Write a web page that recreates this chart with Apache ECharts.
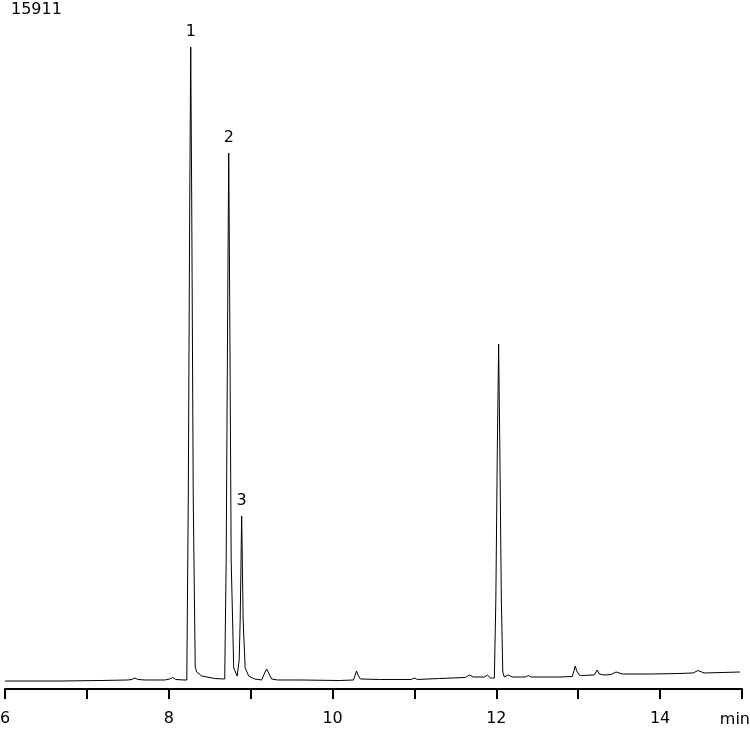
<!DOCTYPE html>
<html>
<head>
<meta charset="utf-8">
<script src="https://cdn.jsdelivr.net/npm/echarts@6/dist/echarts.min.js"></script>
<style>html,body{margin:0;padding:0;background:#fff}#c{width:750px;height:730px}</style>
</head>
<body>
<div id="c"></div>
<script>
// Retention time (min)
const times = [6.000,6.671,7.159,7.500,7.549,7.585,7.622,7.707,7.951,8.012,8.049,8.085,8.183,8.220,8.238,8.256,8.268,8.280,8.299,8.323,8.341,8.402,8.561,8.683,8.701,8.720,8.732,8.744,8.762,8.793,8.835,8.860,8.872,8.890,8.908,8.933,8.976,9.049,9.134,9.171,9.195,9.220,9.256,9.329,9.598,10.085,10.256,10.280,10.293,10.311,10.341,10.573,10.963,11.000,11.037,11.305,11.622,11.671,11.720,11.854,11.890,11.927,11.976,11.994,12.012,12.028,12.043,12.061,12.079,12.098,12.146,12.195,12.305,12.354,12.390,12.427,12.768,12.927,12.951,12.963,12.982,13.012,13.037,13.195,13.232,13.256,13.317,13.402,13.463,13.537,13.866,14.232,14.402,14.463,14.537,14.976];
// Detector signal
const signal = [187,187,199,211,223,258,223,211,211,234,270,223,211,211,4429,11458,15043,11458,4429,516,398,305,246,234,3023,9115,12560,9115,3023,492,305,680,1617,4054,1617,492,305,234,211,375,469,375,234,211,211,199,211,351,422,328,234,223,223,258,223,246,270,328,281,281,328,258,258,2085,5600,8084,5600,2085,398,281,328,281,281,281,316,281,281,293,445,539,422,328,316,328,445,351,328,340,398,351,351,363,375,433,375,398];
// Peak annotations
const peakNames = ['1','2','3'];
const peakTimes = [8.268, 8.732, 8.890];
const peakHeights = [15043, 12560, 4054];
const fullScale = 15911;
const axisMin = 6, axisMax = 15;

const data = times.map((t,i)=>[t, signal[i]]);
const font = 'DejaVu Sans';
const chart = echarts.init(document.getElementById('c'), null, {renderer:'canvas'});
chart.setOption({
  animation:false,
  backgroundColor:'#fff',
  title:{text:String(fullScale), left:11, top:2, padding:0,
    textStyle:{fontFamily:font, fontSize:16, fontWeight:'normal', color:'#000'}},
  grid:{left:5, right:8, top:10, bottom:41, containLabel:false, outerBoundsMode:'none'},
  xAxis:{type:'value', min:axisMin, max:axisMax, interval:1,
    name:'min', nameLocation:'end', nameGap:8,
    nameTextStyle:{fontFamily:font, fontSize:16, color:'#000', align:'right', verticalAlign:'top', padding:[23,0,0,0]},
    axisLine:{lineStyle:{color:'#000', width:2}},
    axisTick:{length:10, lineStyle:{color:'#000', width:2}},
    splitLine:{show:false},
    axisLabel:{margin:22, fontFamily:font, fontSize:16, color:'#000', hideOverlap:false,
      formatter:v=> (v%2===0 && v<axisMax) ? String(v) : ''}},
  yAxis:{type:'value', min:0, max:fullScale, show:false, splitLine:{show:false}},
  series:[{type:'line', data:data, showSymbol:false, symbol:'none',
    lineStyle:{color:'#000', width:1}, silent:true,
    markPoint:{symbol:'circle', symbolSize:0, silent:true,
      label:{show:true, position:'top', distance:7, fontFamily:font, fontSize:16, color:'#000',
        formatter:p=>p.name},
      data:peakNames.map((n,i)=>({name:n, coord:[peakTimes[i], peakHeights[i]]}))}
  }]
});
</script>
</body>
</html>
